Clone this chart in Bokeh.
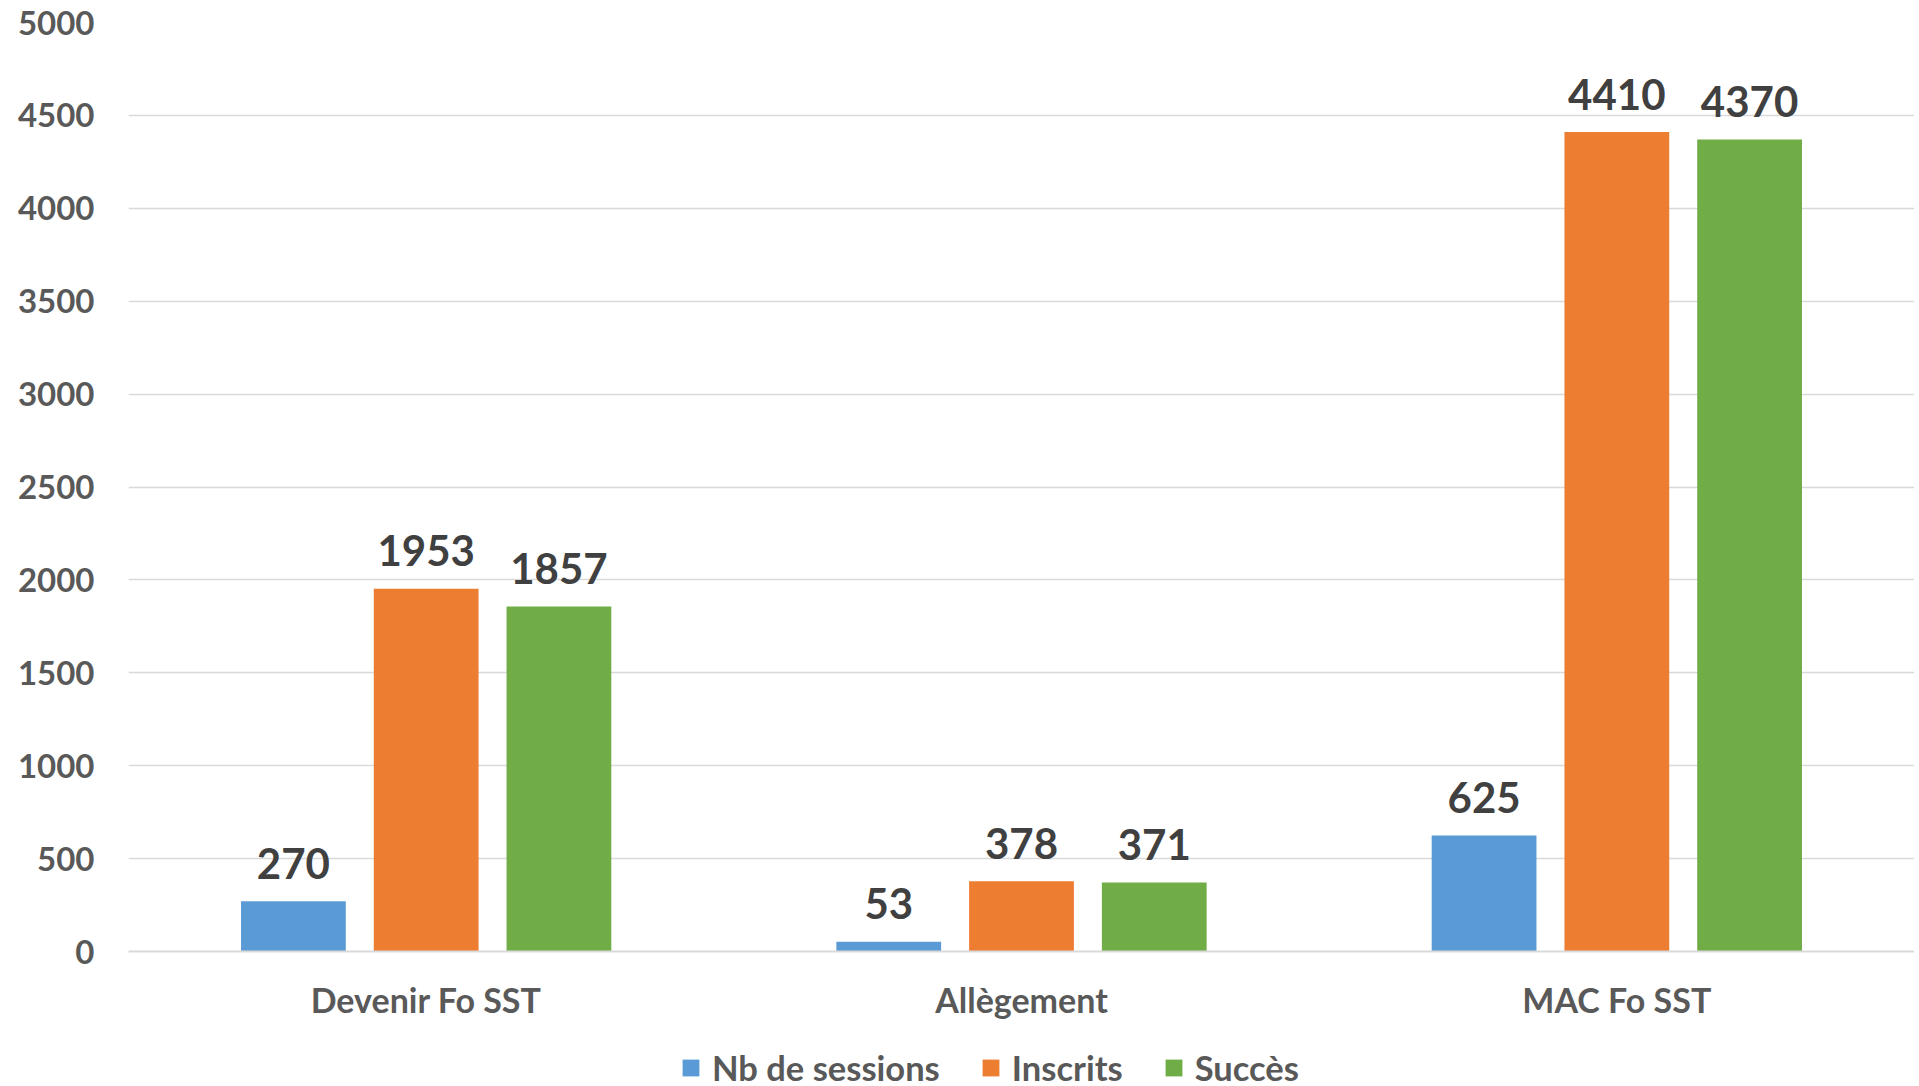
from bokeh.plotting import figure
from bokeh.layouts import column
from bokeh.models import ColumnDataSource, FactorRange, Legend, LegendItem, SingleIntervalTicker, Range1d
from bokeh.transform import dodge
from bokeh.core.properties import value
from bokeh.embed import file_html
from bokeh.resources import INLINE

categories = ["Devenir Fo SST", "Allègement", "MAC Fo SST"]
series_names = ["Nb de sessions", "Inscrits", "Succès"]
sessions = [270, 53, 625]
inscrits = [1953, 378, 4410]
succes = [1857, 371, 4370]
colors = ["#5B9BD5", "#ED7D31", "#70AD47"]

FONT = "Lato"

src = ColumnDataSource(data=dict(cat=categories, s0=sessions, s1=inscrits, s2=succes,
                                 t0=[str(v) for v in sessions],
                                 t1=[str(v) for v in inscrits],
                                 t2=[str(v) for v in succes]))

xr = FactorRange(*categories)
p = figure(x_range=xr, y_range=(0, 5000),
           frame_width=1786, frame_height=929,
           output_backend="svg", toolbar_location=None,
           min_border_left=128, min_border_right=0, min_border_top=22, min_border_bottom=90)
p.outline_line_color = None
p.background_fill_color = "white"
p.border_fill_color = "white"

offsets = [-0.223, 0.0, 0.223]
bw = 0.176
for i, (name, col) in enumerate(zip(series_names, colors)):
    p.vbar(x=dodge("cat", offsets[i], range=xr), top="s%d" % i, width=bw,
           source=src, fill_color=col, line_color=None)
    p.text(x=dodge("cat", offsets[i], range=xr), y="s%d" % i, text="t%d" % i,
           source=src, y_offset=-38, text_align="center", text_baseline="alphabetic",
           text_font=value(FONT), text_font_style="bold", text_font_size="42px",
           text_color="#404040")

# axes
p.yaxis.ticker = SingleIntervalTicker(interval=500)
p.yaxis.axis_line_color = None
p.yaxis.major_tick_line_color = None
p.yaxis.minor_tick_line_color = None
p.yaxis.major_label_standoff = 28
p.yaxis.major_label_text_font = FONT
p.yaxis.major_label_text_font_style = "bold"
p.yaxis.major_label_text_font_size = "33px"
p.yaxis.major_label_text_color = "#595959"

p.xaxis.axis_line_color = "#d9d9d9"
p.xaxis.axis_line_width = 2
p.xaxis.major_tick_line_color = None
p.xaxis.minor_tick_line_color = None
p.xaxis.major_tick_out = 0
p.xaxis.major_label_standoff = 27
p.xaxis.major_label_text_font = FONT
p.xaxis.major_label_text_font_style = "bold"
p.xaxis.major_label_text_font_size = "34px"
p.xaxis.major_label_text_color = "#595959"

p.xgrid.grid_line_color = None
p.ygrid.grid_line_color = "#d9d9d9"
p.ygrid.grid_line_width = 1.5

# legend strip below the chart: same series as hidden renderers, only the legend shows
lg = figure(x_range=xr, y_range=Range1d(-2, -1),
            frame_width=1914, frame_height=44,
            output_backend="svg", toolbar_location=None,
            x_axis_location=None, y_axis_location=None,
            min_border_left=0, min_border_right=0, min_border_top=0, min_border_bottom=0)
lg.outline_line_color = None
lg.xgrid.grid_line_color = None
lg.ygrid.grid_line_color = None
swatches = []
for i, c in enumerate(colors):
    r = lg.vbar(x=dodge("cat", offsets[i], range=xr), top="s%d" % i, width=bw,
                source=src, fill_color=c, line_color=None)
    r.visible = False
    swatches.append(r)
legend = Legend(items=[LegendItem(label=n, renderers=[r]) for n, r in zip(series_names, swatches)],
                orientation="horizontal", location=(680, -3),
                label_text_font=FONT, label_text_font_style="bold",
                label_text_font_size="34.5px", label_text_color="#595959",
                glyph_width=21, glyph_height=21, label_standoff=11, spacing=40,
                inactive_fill_alpha=0, click_policy="none",
                border_line_color=None, background_fill_alpha=0, padding=0, margin=0)
lg.add_layout(legend, "center")

layout = column(p, lg, spacing=0)
open("out.html", "w").write(file_html(layout, INLINE))
